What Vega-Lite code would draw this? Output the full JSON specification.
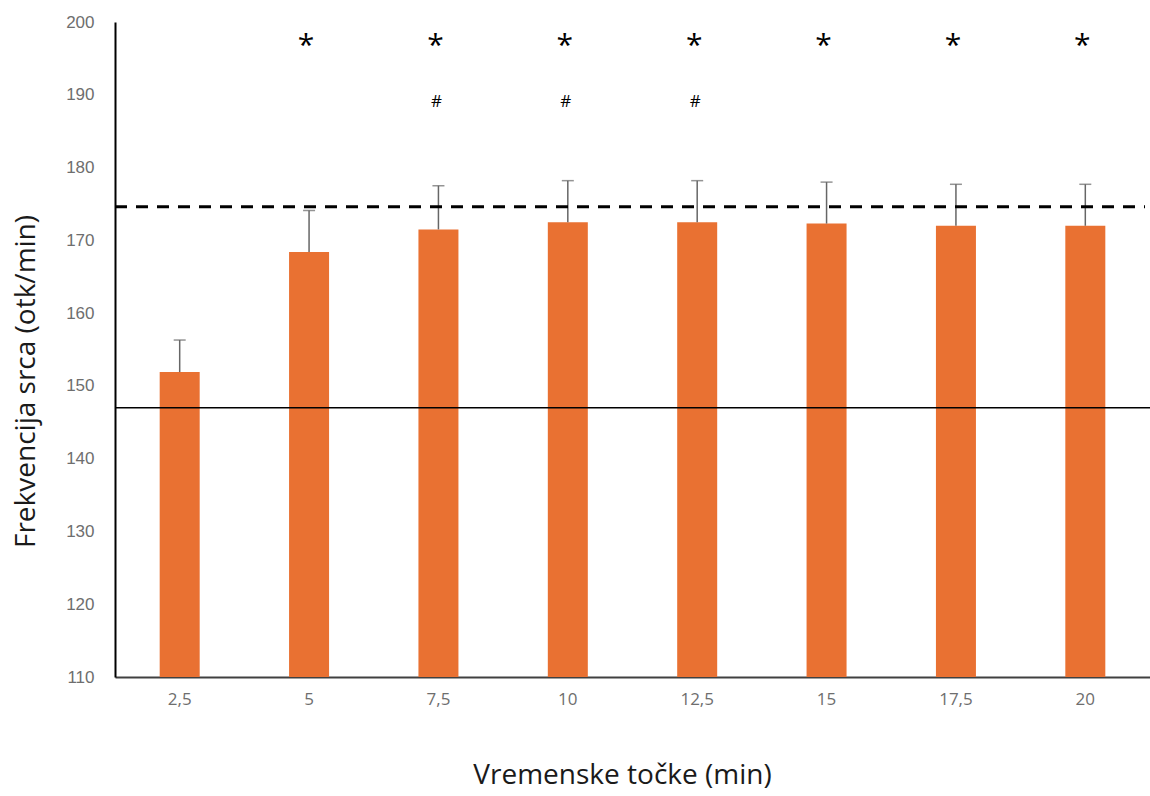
{
  "$schema": "https://vega.github.io/schema/vega-lite/v6.json",
  "autosize": {"type": "none"},
  "width": 1035,
  "height": 655,
  "padding": {"left": 115, "top": 22, "right": 0, "bottom": 119},
  "background": "white",
  "config": {"view": {"stroke": null}, "font": "Liberation Sans"},
  "datasets": {
    "bars": [
      {"t": "2,5", "mean": 151.9, "upper": 156.3, "star": "", "hash": ""},
      {"t": "5", "mean": 168.4, "upper": 174.1, "star": "*", "hash": ""},
      {"t": "7,5", "mean": 171.5, "upper": 177.5, "star": "*", "hash": "#"},
      {"t": "10", "mean": 172.5, "upper": 178.2, "star": "*", "hash": "#"},
      {"t": "12,5", "mean": 172.5, "upper": 178.2, "star": "*", "hash": "#"},
      {"t": "15", "mean": 172.3, "upper": 178.0, "star": "*", "hash": ""},
      {"t": "17,5", "mean": 172.0, "upper": 177.7, "star": "*", "hash": ""},
      {"t": "20", "mean": 172.0, "upper": 177.7, "star": "*", "hash": ""}
    ],
    "refs": [
      {"name": "dashed", "v": 174.6},
      {"name": "solid", "v": 147.0}
    ]
  },
  "layer": [
    {
      "data": {"name": "bars"},
      "encoding": {
        "x": {
          "field": "t", "type": "nominal", "sort": null,
          "scale": {"paddingInner": 0, "paddingOuter": 0},
          "axis": {
            "title": "Vremenske točke (min)",
            "titleFont": "Open Sans",
            "titleFontSize": 28, "titleFontWeight": "normal", "titleColor": "#1a1a1a",
            "titleX": 507, "titleY": 84, "titleBaseline": "top",
            "labelAngle": 0, "labelFontSize": 17, "labelColor": "#6e6e6e",
            "labelFont": "Open Sans",
            "labelPadding": 14, "ticks": false,
            "domainColor": "#404040", "domainWidth": 2
          }
        }
      },
      "layer": [
        {
          "mark": {"type": "bar", "width": 40, "color": "#E97132"},
          "encoding": {
            "y": {
              "field": "mean", "type": "quantitative",
              "scale": {"domain": [110, 200], "nice": false, "zero": false},
              "axis": {
                "title": "Frekvencija srca (otk/min)",
                "titleFont": "Open Sans",
                "titleFontSize": 28, "titleFontWeight": "normal", "titleColor": "#1a1a1a",
                "titleX": -81, "titleY": 359, "titleBaseline": "alphabetic",
                "values": [110, 120, 130, 140, 150, 160, 170, 180, 190, 200],
                "labelFontSize": 17, "labelColor": "#6e6e6e", "labelPadding": 21,
                "ticks": false, "grid": false,
                "domainColor": "#000000", "domainWidth": 2
              }
            },
            "y2": {"datum": 110}
          }
        },
        {
          "mark": {"type": "rule", "color": "#666666", "strokeWidth": 1.5},
          "encoding": {
            "y": {"field": "mean", "type": "quantitative"},
            "y2": {"field": "upper"}
          }
        },
        {
          "mark": {"type": "tick", "color": "#666666", "thickness": 1.5, "size": 12, "orient": "horizontal"},
          "encoding": {
            "y": {"field": "upper", "type": "quantitative"}
          }
        },
        {
          "mark": {"type": "text", "fontSize": 30, "font": "Open Sans", "color": "#000000", "baseline": "middle", "dx": -3, "dy": 6},
          "encoding": {
            "y": {"datum": 197.5, "type": "quantitative"},
            "text": {"field": "star"}
          }
        },
        {
          "mark": {"type": "text", "fontSize": 17, "font": "Open Sans", "color": "#000000", "baseline": "middle", "dx": -2},
          "encoding": {
            "y": {"datum": 189.0, "type": "quantitative"},
            "text": {"field": "hash"}
          }
        }
      ]
    },
    {
      "data": {"name": "refs"},
      "transform": [{"filter": "datum.name === 'dashed'"}],
      "mark": {"type": "rule", "color": "#000000", "strokeWidth": 3, "strokeDash": [12, 9]},
      "encoding": {
        "x": {"value": 0},
        "x2": {"value": 1030},
        "y": {"field": "v", "type": "quantitative"}
      }
    },
    {
      "data": {"name": "refs"},
      "transform": [{"filter": "datum.name === 'solid'"}],
      "mark": {"type": "rule", "color": "#000000", "strokeWidth": 1.5},
      "encoding": {
        "y": {"field": "v", "type": "quantitative"}
      }
    }
  ]
}
